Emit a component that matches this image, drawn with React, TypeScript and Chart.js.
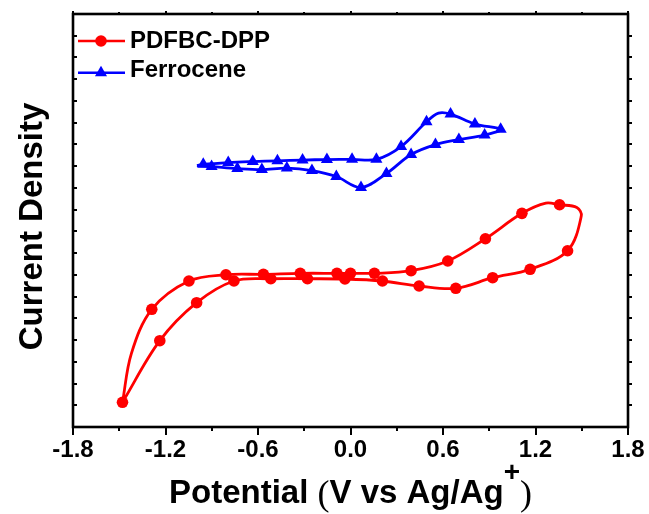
import React, { useEffect, useRef } from "react";
import { Chart, registerables } from "chart.js";

Chart.register(...registerables);

// ---- Axis ticks ----
const xMajorTicks = [-1.8, -1.2, -0.6, 0.0, 0.6, 1.2, 1.8];
const xMinorTicks = [-1.5, -0.9, -0.3, 0.3, 0.9, 1.5];
const yMin = 0;
const yMax = 19;

// ---- Series names / titles ----
const seriesNames = ["PDFBC-DPP", "Ferrocene"];
const xTitleMain = "Potential ";
const xTitleInner = "V vs Ag/Ag";
const xTitleSup = "+";
const yTitle = "Current Density";

// ---- PDFBC-DPP (red) : potential (V), current density (a.u.), marker flag ----
const pdfbcX = [
  -1.479, -1.421, -1.289, -1.048, -0.808, -0.565, -0.326, -0.088, 0.0, 0.155,
  0.393, 0.631, 0.875, 1.112, 1.267, 1.356, 1.468, 1.497, 1.408, 1.165,
  0.922, 0.683, 0.445, 0.207, -0.036, -0.279, -0.517, -0.756, -0.998, -1.237,
  -1.479,
];
const pdfbcY = [
  1.136, 3.39, 5.414, 6.716, 7.005, 7.024, 7.07, 7.07, 7.07, 7.07,
  7.19, 7.636, 8.661, 9.83, 10.304, 10.225, 10.097, 9.706, 8.109, 7.254,
  6.868, 6.38, 6.486, 6.716, 6.808, 6.821, 6.821, 6.716, 5.718, 3.97,
  1.136,
];
const pdfbcMarker = [
  1, 0, 1, 1, 1, 1, 1, 1, 1, 1,
  1, 1, 1, 1, 0, 1, 0, 0, 1, 1,
  1, 1, 1, 1, 1, 1, 1, 1, 1, 1,
  0,
];

// ---- Ferrocene (blue) ----
const ferroX = [
  -0.996, -0.955, -0.793, -0.634, -0.474, -0.311, -0.153, 0.01, 0.168, 0.328,
  0.493, 0.571, 0.649, 0.807, 0.974, 0.87, 0.703, 0.551, 0.393, 0.233,
  0.068, -0.092, -0.25, -0.413, -0.575, -0.734, -0.901, -0.996,
];
const ferroY = [
  12.028, 12.084, 12.167, 12.213, 12.245, 12.282, 12.305, 12.314, 12.314, 12.903,
  14.043, 14.443, 14.397, 13.937, 13.694, 13.431, 13.224, 12.994, 12.535, 11.66,
  11.017, 11.522, 11.799, 11.913, 11.844, 11.891, 11.983, 12.028,
];
const ferroMarker = [
  0, 1, 1, 1, 1, 1, 1, 1, 1, 1,
  1, 0, 1, 1, 1, 1, 1, 1, 1, 1,
  1, 1, 1, 1, 1, 1, 1, 0,
];

const SANS = '"Liberation Sans", Arial, Helvetica, sans-serif';
const SERIF = '"Liberation Serif", "Times New Roman", serif';
const RED = "#ff0000";
const BLUE = "#0000ff";

function drawMarker(ctx: CanvasRenderingContext2D, style: string, x: number, y: number, r: number, color: string) {
  ctx.fillStyle = color;
  ctx.beginPath();
  if (style === "triangle") {
    ctx.moveTo(x, y - r);
    ctx.lineTo(x + r * Math.sin(Math.PI / 3), y + r * 0.5);
    ctx.lineTo(x - r * Math.sin(Math.PI / 3), y + r * 0.5);
    ctx.closePath();
  } else {
    ctx.arc(x, y, r, 0, Math.PI * 2);
  }
  ctx.fill();
}

const decorPlugin = {
  id: "decor",
  afterDraw(chart: any) {
    const ctx: CanvasRenderingContext2D = chart.ctx;
    const a = chart.chartArea;
    const xs = chart.scales.x;
    const ys = chart.scales.y;
    ctx.save();
    ctx.strokeStyle = "#000";
    ctx.lineCap = "butt";

    // tick marks
    ctx.lineWidth = 2;
    ctx.beginPath();
    xMajorTicks.forEach((v) => {
      const px = Math.round(xs.getPixelForValue(v));
      ctx.moveTo(px, a.bottom);
      ctx.lineTo(px, a.bottom + 8);
      ctx.moveTo(px, a.top);
      ctx.lineTo(px, a.top - 3);
    });
    xMinorTicks.forEach((v) => {
      const px = Math.round(xs.getPixelForValue(v));
      ctx.moveTo(px, a.bottom);
      ctx.lineTo(px, a.bottom + 4);
      ctx.moveTo(px, a.top);
      ctx.lineTo(px, a.top - 2);
    });
    for (let v = yMin + 1; v < yMax; v++) {
      const py = Math.round(ys.getPixelForValue(v));
      ctx.moveTo(a.left, py);
      ctx.lineTo(a.left + 4, py);
      ctx.moveTo(a.right, py);
      ctx.lineTo(a.right + 4, py);
    }
    ctx.stroke();

    // frame
    ctx.lineWidth = 2.6;
    ctx.strokeRect(a.left, a.top, a.right - a.left, a.bottom - a.top);

    // legend
    const ds = chart.data.datasets;
    const legendRows = [
      { lineY: 41, textY: 47.5 },
      { lineY: 72.7, textY: 77 },
    ];
    ds.forEach((d: any, i: number) => {
      const row = legendRows[i];
      ctx.strokeStyle = d.borderColor;
      ctx.lineWidth = 2.6;
      ctx.beginPath();
      ctx.moveTo(a.left + 5, row.lineY);
      ctx.lineTo(a.left + 52, row.lineY);
      ctx.stroke();
      drawMarker(ctx, d.pointStyle, a.left + 28, row.lineY, d.pointStyle === "triangle" ? 7 : 5.8, d.borderColor);
      ctx.fillStyle = "#000";
      ctx.font = `bold 24px ${SANS}`;
      ctx.textAlign = "left";
      ctx.textBaseline = "alphabetic";
      ctx.fillText(d.label, a.left + 57, row.textY);
    });

    // x title with superscript
    const fMain = `bold 33px ${SANS}`;
    const fParen = `36px ${SERIF}`;
    const fSup = `bold 28px ${SANS}`;
    ctx.font = fMain;
    const w1 = ctx.measureText(xTitleMain).width;
    const w3 = ctx.measureText(xTitleInner).width;
    ctx.font = fParen;
    const wp1 = ctx.measureText("(").width;
    const wp2 = ctx.measureText(")").width;
    ctx.font = fSup;
    const ws = ctx.measureText(xTitleSup).width;
    const total = w1 + wp1 + w3 + ws + wp2;
    let cx = (a.left + a.right) / 2 - total / 2;
    const base = 503;
    ctx.fillStyle = "#000";
    ctx.textAlign = "left";
    ctx.textBaseline = "alphabetic";
    ctx.font = fMain;
    ctx.fillText(xTitleMain, cx, base);
    cx += w1;
    ctx.font = fParen;
    ctx.fillText("(", cx, base + 2);
    cx += wp1;
    ctx.font = fMain;
    ctx.fillText(xTitleInner, cx, base);
    cx += w3;
    ctx.font = fSup;
    ctx.fillText(xTitleSup, cx, base - 22);
    cx += ws;
    ctx.font = fParen;
    ctx.fillText(")", cx, base + 2);

    // y title
    ctx.save();
    ctx.translate(42, 226.5);
    ctx.rotate(-Math.PI / 2);
    ctx.font = `bold 33px ${SANS}`;
    ctx.textAlign = "center";
    ctx.textBaseline = "alphabetic";
    ctx.fillText(yTitle, 0, 0);
    ctx.restore();

    ctx.restore();
  },
};

export default function App() {
  const ref = useRef<HTMLCanvasElement>(null);

  useEffect(() => {
    if (!ref.current) return;
    const chart = new Chart(ref.current, {
      type: "scatter",
      data: {
        datasets: [
          {
            label: seriesNames[0],
            data: pdfbcX.map((x, i) => ({ x, y: pdfbcY[i] })),
            showLine: true,
            borderColor: RED,
            backgroundColor: RED,
            borderWidth: 2.8,
            tension: 0.35,
            pointStyle: "circle",
            pointRadius: pdfbcMarker.map((m) => (m ? 5.8 : 0)),
            pointBorderWidth: 0,
            pointHoverRadius: 0,
          },
          {
            label: seriesNames[1],
            data: ferroX.map((x, i) => ({ x, y: ferroY[i] })),
            showLine: true,
            borderColor: BLUE,
            backgroundColor: BLUE,
            borderWidth: 2.8,
            tension: 0.35,
            pointStyle: "triangle",
            pointRadius: ferroMarker.map((m) => (m ? 7 : 0)),
            pointBorderWidth: 0,
            pointHoverRadius: 0,
          },
        ],
      },
      options: {
        animation: false,
        responsive: false,
        devicePixelRatio: 1,
        events: [],
        layout: { padding: { left: 73, top: 14, right: 21, bottom: 0 } },
        plugins: {
          legend: { display: false },
          tooltip: { enabled: false },
        },
        scales: {
          x: {
            type: "linear",
            min: xMajorTicks[0],
            max: xMajorTicks[xMajorTicks.length - 1],
            afterBuildTicks: (s: any) => {
              s.ticks = xMajorTicks.map((v) => ({ value: v }));
            },
            afterFit: (s: any) => {
              s.height = 87;
              s.paddingLeft = 0;
              s.paddingRight = 0;
            },
            grid: { display: false, drawTicks: false },
            border: { display: false },
            ticks: {
              padding: 9,
              color: "#000",
              autoSkip: false,
              maxRotation: 0,
              font: { family: SANS, size: 24, weight: "bold" },
              callback: (v: any) => Number(v).toFixed(1),
            },
          },
          y: {
            type: "linear",
            min: yMin,
            max: yMax,
            display: false,
          },
        },
      },
      plugins: [decorPlugin],
    } as any);
    return () => chart.destroy();
  }, []);

  return (
    <div style={{ position: "fixed", left: 0, top: 0, width: 649, height: 514, background: "#fff" }}>
      <canvas ref={ref} width={649} height={514} style={{ display: "block", width: 649, height: 514 }} />
    </div>
  );
}
